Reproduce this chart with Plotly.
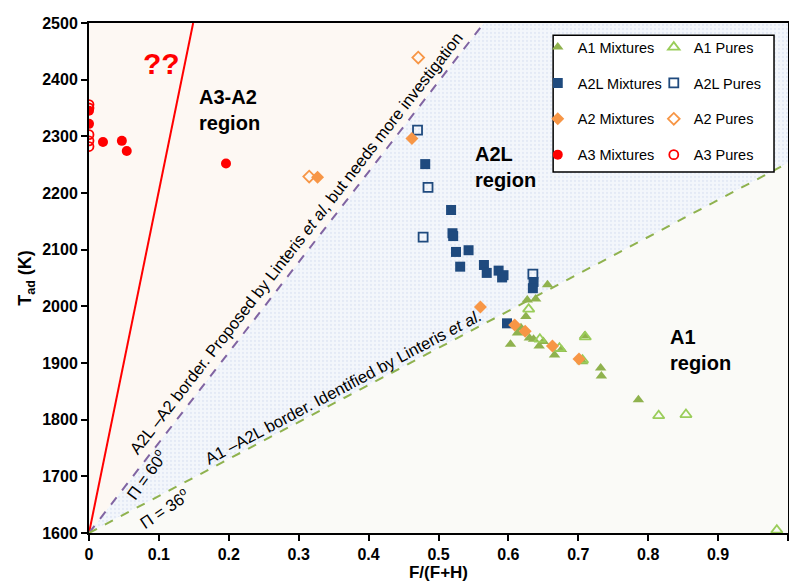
import plotly.graph_objects as go

# ---------------- data ----------------
a1_mix_x = [0.656, 0.627, 0.639, 0.625, 0.613, 0.603, 0.630, 0.636, 0.644, 0.666, 0.709, 0.676, 0.706, 0.732, 0.733, 0.786, 0.618, 0.650]
a1_mix_y = [2038, 2011, 2013, 1982, 1953, 1933, 1944, 1942, 1930, 1914, 1948, 1924, 1902, 1891, 1877, 1835, 1962, 1938]
a1_pure_x = [0.629, 0.645, 0.673, 0.710, 0.706, 0.815, 0.854, 0.984]
a1_pure_y = [1995, 1942, 1926, 1946, 1905, 1807, 1809, 1605]

a2l_mix_x = [0.481, 0.518, 0.520, 0.521, 0.525, 0.543, 0.531, 0.565, 0.569, 0.586, 0.593, 0.591, 0.636, 0.635, 0.598]
a2l_mix_y = [2251, 2170, 2129, 2124, 2096, 2099, 2070, 2073, 2059, 2063, 2055, 2051, 2043, 2032, 1970]
a2l_pure_x = [0.470, 0.485, 0.478, 0.635]
a2l_pure_y = [2311, 2210, 2122, 2057]

a2_mix_x = [0.327, 0.462, 0.560, 0.609, 0.624, 0.663, 0.701]
a2_mix_y = [2228, 2296, 1999, 1967, 1956, 1930, 1907]
a2_pure_x = [0.471, 0.315]
a2_pure_y = [2439, 2229]

a3_mix_x = [0.0, 0.0, 0.020, 0.047, 0.054, 0.196]
a3_mix_y = [2345, 2322, 2290, 2292, 2274, 2252]
a3_pure_x = [0.0, 0.0, 0.0, 0.0, 0.0]
a3_pure_y = [2356, 2350, 2303, 2292, 2282]

# border lines (all start at origin of the chart)
red_line_x = [0.0, 0.149]
red_line_y = [1600, 2500]
purple_line_x = [0.0, 0.565]
purple_line_y = [1600, 2500]
green_line_x = [0.0, 1.0]
green_line_y = [1600, 2253]

x_ticks = [0, 0.1, 0.2, 0.3, 0.4, 0.5, 0.6, 0.7, 0.8, 0.9, 1]
x_tick_labels = ["0", "0.1", "0.2", "0.3", "0.4", "0.5", "0.6", "0.7", "0.8", "0.9", "1"]
y_ticks = [1600, 1700, 1800, 1900, 2000, 2100, 2200, 2300, 2400, 2500]

XMIN, XMAX, YMIN, YMAX = 0.0, 1.0, 1600, 2500

FONT = "Liberation Sans, Arial, sans-serif"
GREEN = "#8fb24e"
GREEN_OPEN = "#9acd5a"
NAVY = "#1f4a7e"
ORANGE = "#f79646"
RED = "#ff0000"
PURPLE = "#8064a2"

fig = go.Figure()

# ---------------- region fills ----------------
# A3/A2 region: above purple border
fig.add_trace(go.Scatter(
    x=[purple_line_x[0], purple_line_x[1], XMIN, purple_line_x[0]],
    y=[purple_line_y[0], purple_line_y[1], YMAX, purple_line_y[0]],
    fill="toself", mode="none", fillcolor="#fdf8f3",
    showlegend=False, hoverinfo="skip"))
# A2L region: between green and purple borders
fig.add_trace(go.Scatter(
    x=[green_line_x[0], green_line_x[1], XMAX, purple_line_x[1], green_line_x[0]],
    y=[green_line_y[0], green_line_y[1], YMAX, purple_line_y[1], green_line_y[0]],
    fill="toself", mode="none", fillcolor="#f1f4fa",
    fillpattern=dict(shape=".", fgcolor="#d3ddef", bgcolor="#f3f6fb", size=4, solidity=0.25),
    showlegend=False, hoverinfo="skip"))
# A1 region: below green border
fig.add_trace(go.Scatter(
    x=[green_line_x[0], XMAX, green_line_x[1], green_line_x[0]],
    y=[green_line_y[0], YMIN, green_line_y[1], green_line_y[0]],
    fill="toself", mode="none", fillcolor="#fafaf7",
    showlegend=False, hoverinfo="skip"))

# ---------------- border lines ----------------
fig.add_trace(go.Scatter(x=red_line_x, y=red_line_y, mode="lines",
                         line=dict(color=RED, width=2), showlegend=False, hoverinfo="skip"))
fig.add_trace(go.Scatter(x=purple_line_x, y=purple_line_y, mode="lines",
                         line=dict(color=PURPLE, width=2, dash="dash"), showlegend=False, hoverinfo="skip"))
fig.add_trace(go.Scatter(x=green_line_x, y=green_line_y, mode="lines",
                         line=dict(color=GREEN, width=2, dash="dash"), showlegend=False, hoverinfo="skip"))

# ---------------- points ----------------
def pts(x, y, name, symbol, color, size, legend, group, open_=False):
    if open_:
        marker = dict(symbol=symbol + "-open", color=color, size=size, line=dict(width=1.8, color=color))
    else:
        marker = dict(symbol=symbol, color=color, size=size, line=dict(width=0))
    fig.add_trace(go.Scatter(x=x, y=y, mode="markers", name=name, marker=marker,
                             legend=legend, legendgroup=group))

pts(a1_mix_x, a1_mix_y, "A1 Mixtures", "triangle-up", GREEN, 10, "legend", "g1")
pts(a1_pure_x, a1_pure_y, "A1 Pures", "triangle-up", GREEN_OPEN, 10, "legend2", "h1", True)
pts(a2l_mix_x, a2l_mix_y, "A2L Mixtures", "square", NAVY, 10, "legend", "g2")
pts(a2l_pure_x, a2l_pure_y, "A2L Pures", "square", NAVY, 9, "legend2", "h2", True)
pts(a2_mix_x, a2_mix_y, "A2 Mixtures", "diamond", ORANGE, 10, "legend", "g3")
pts(a2_pure_x, a2_pure_y, "A2 Pures", "diamond", ORANGE, 9, "legend2", "h3", True)
pts(a3_mix_x, a3_mix_y, "A3 Mixtures", "circle", RED, 10, "legend", "g4")
pts(a3_pure_x, a3_pure_y, "A3 Pures", "circle", RED, 9, "legend2", "h4", True)

# ---------------- annotations ----------------
ann = []
ann.append(dict(x=0.104, y=2429, text="<b>??</b>", showarrow=False,
                font=dict(family=FONT, size=30, color=RED)))
ann.append(dict(x=0.155, y=2346, text="<b>A3-A2<br>region</b>", showarrow=False, xanchor="left",
                align="left", font=dict(family=FONT, size=20, color="black")))
ann.append(dict(x=0.549, y=2246, text="<b>A2L<br>region</b>", showarrow=False, xanchor="left",
                align="left", font=dict(family=FONT, size=20, color="black")))
ann.append(dict(x=0.829, y=1923, text="<b>A1<br>region</b>", showarrow=False, xanchor="left",
                align="left", font=dict(family=FONT, size=20, color="black")))
ann.append(dict(x=0.296, y=2112, text="A2L –A2 border. Proposed by Linteris <i>et al</i>, but needs more investigation",
                showarrow=False, textangle=-52, font=dict(family=FONT, size=16.5, color="black")))
ann.append(dict(x=0.082, y=1704, text="Π = 60<sup>o</sup>", showarrow=False, textangle=-54,
                font=dict(family=FONT, size=16.5, color="black")))
ann.append(dict(x=0.363, y=1858, text="A1 –A2L border. Identified by Linteris <i>et al.</i>",
                showarrow=False, textangle=-28, font=dict(family=FONT, size=16.5, color="black")))
ann.append(dict(x=0.108, y=1645, text="Π = 36<sup>o</sup>", showarrow=False, textangle=-34,
                font=dict(family=FONT, size=16.5, color="black")))

fig.update_layout(
    width=789, height=586, autosize=False,
    margin=dict(l=89, r=1, t=23, b=53),
    paper_bgcolor="white", plot_bgcolor="white",
    font=dict(family=FONT, color="black"),
    annotations=ann,
    xaxis=dict(range=[XMIN, XMAX], tickvals=x_ticks, ticktext=x_tick_labels, automargin=False,
               showgrid=False, zeroline=False, showline=True, linecolor="black", linewidth=2,
               mirror=True, ticks="outside", ticklen=6, tickwidth=1.5, tickcolor="black",
               tickfont=dict(family=FONT, size=16, weight="bold"),
               title=dict(text="<b>F/(F+H)</b>", font=dict(family=FONT, size=17), standoff=0)),
    yaxis=dict(range=[YMIN, YMAX], tickvals=y_ticks, automargin=False,
               showgrid=False, zeroline=False, showline=True, linecolor="black", linewidth=2,
               mirror=True, ticks="outside", ticklen=6, tickwidth=1.5, tickcolor="black",
               tickfont=dict(family=FONT, size=16, weight="bold"),
               title=dict(text="<b>T<sub>ad</sub> (K)</b>", font=dict(family=FONT, size=18), standoff=6)),
    legend=dict(x=0.642, y=0.984, xanchor="left", yanchor="top", bgcolor="rgba(0,0,0,0)",
                borderwidth=0, font=dict(family=FONT, size=14.5, color="black"),
                tracegroupgap=14, itemwidth=30),
    legend2=dict(x=0.808, y=0.984, xanchor="left", yanchor="top", bgcolor="rgba(0,0,0,0)",
                 borderwidth=0, font=dict(family=FONT, size=14.5, color="black"),
                 tracegroupgap=14, itemwidth=30),
    shapes=[dict(type="rect", xref="paper", yref="paper", x0=0.664, x1=0.98, y0=0.708, y1=0.976,
                 line=dict(color="black", width=1.5), fillcolor="white", layer="above")],
)

post = ("document.body.style.margin='0';document.body.style.padding='0';"
        "document.body.style.overflow='hidden';"
        "var gd=document.getElementById('{plot_id}');"
        "Plotly.relayout(gd,{width:789,height:586});")

fig.write_html("out.html", config={"responsive": False, "displayModeBar": False}, post_script=post)
